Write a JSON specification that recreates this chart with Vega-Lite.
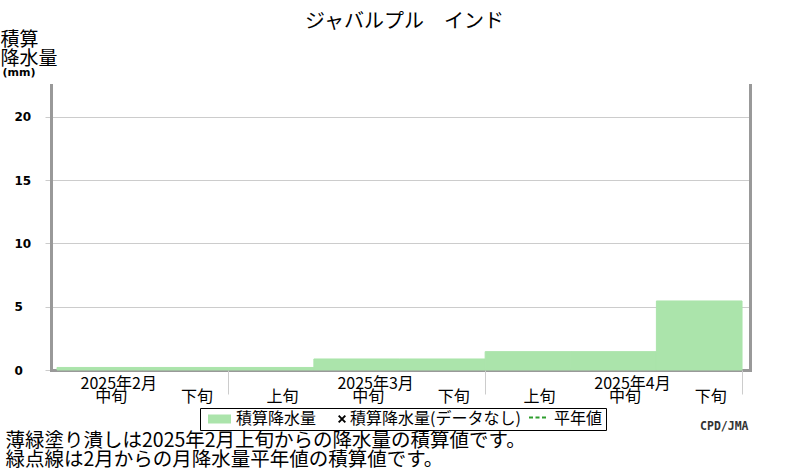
{
  "$schema": "https://vega.github.io/schema/vega-lite/v6.json",
  "width": 699,
  "height": 285,
  "autosize": {"type": "none"},
  "padding": {"left": 51, "top": 85, "right": 50, "bottom": 100},
  "background": "white",
  "title": {
    "text": "ジャバルプル　インド",
    "frame": "group",
    "anchor": "middle",
    "dx": 4,
    "offset": -2,
    "font": "Noto Sans CJK JP",
    "fontSize": 20,
    "fontWeight": "normal",
    "color": "black"
  },
  "config": {
    "view": {"stroke": null},
    "font": "Noto Sans CJK JP",
    "axis": {"labelColor": "black", "titleColor": "black"}
  },
  "layer": [
    {
      "data": {
        "values": [
          {"dekad": "2月中旬", "start": 1, "end": 2, "total": 0.2},
          {"dekad": "2月下旬", "start": 2, "end": 3, "total": 0.2},
          {"dekad": "3月上旬", "start": 3, "end": 4, "total": 0.2},
          {"dekad": "3月中旬", "start": 4, "end": 5, "total": 0.87},
          {"dekad": "3月下旬", "start": 5, "end": 6, "total": 0.87},
          {"dekad": "4月上旬", "start": 6, "end": 7, "total": 1.45},
          {"dekad": "4月中旬", "start": 7, "end": 8, "total": 1.45},
          {"dekad": "4月下旬", "start": 8, "end": 9, "total": 5.45}
        ]
      },
      "mark": {"type": "rect", "color": "#abe4ab", "stroke": "#abe4ab", "strokeWidth": 1},
      "encoding": {
        "x": {
          "field": "start",
          "type": "quantitative",
          "scale": {"domain": [0.93, 9.093], "nice": false, "zero": false},
          "axis": {
            "orient": "bottom",
            "values": [1.5, 2.5, 3.5, 4.5, 5.5, 6.5, 7.5, 8.5],
            "labelExpr": "['上旬', '中旬', '下旬'][floor(datum.value) % 3]",
            "ticks": false,
            "grid": false,
            "domain": true,
            "domainColor": "#999999",
            "domainWidth": 3,
            "domainCap": "square",
            "labelOffset": 11,
            "labelPadding": 18,
            "labelFont": "Noto Sans CJK JP",
            "labelFontSize": 16,
            "labelOverlap": false,
            "labelFlush": false,
            "labelBound": false,
            "title": ["薄緑塗り潰しは2025年2月上旬からの降水量の積算値です。", "緑点線は2月からの月降水量平年値の積算値です。"],
            "titleX": -46,
            "titleY": 61,
            "titleAlign": "left",
            "titleAnchor": "start",
            "titleBaseline": "top",
            "titleFont": "Noto Sans CJK JP",
            "titleFontSize": 19.5,
            "titleFontWeight": "normal",
            "titleLineHeight": 19
          }
        },
        "x2": {"field": "end"},
        "y": {
          "field": "total",
          "type": "quantitative",
          "scale": {"domain": [0, 22.5], "nice": false},
          "axis": {
            "orient": "left",
            "values": [0, 5, 10, 15, 20],
            "grid": true,
            "gridColor": "#cccccc",
            "gridWidth": 1,
            "tickColor": "#cccccc",
            "tickSize": 6,
            "domainColor": "#999999",
            "domainWidth": 3,
            "domainCap": "square",
            "labelAlign": "left",
            "labelBaseline": "middle",
            "labelPadding": 31,
            "labelFont": "DejaVu Sans",
            "labelFontWeight": "bold",
            "labelFontSize": 12,
            "labelFlush": false,
            "title": ["積算", "降水量"],
            "titleAngle": 0,
            "titleAlign": "left",
            "titleBaseline": "top",
            "titleX": -51,
            "titleY": -55,
            "titleFont": "Noto Sans CJK JP",
            "titleFontSize": 19,
            "titleFontWeight": "normal",
            "titleLineHeight": 19
          }
        },
        "y2": {"datum": 0}
      }
    },
    {
      "data": {
        "values": [
          {"series": "積算降水量"},
          {"series": "積算降水量(データなし)"},
          {"series": "平年値"}
        ]
      },
      "mark": {"type": "point", "filled": true, "clip": true, "opacity": 1},
      "encoding": {
        "x": {
          "datum": 0,
          "type": "quantitative",
          "axis": {
            "orient": "bottom",
            "values": [3, 6, 9],
            "labelExpr": "'2025年' + (floor(datum.value / 3) + 1) + '月'",
            "ticks": true,
            "tickSize": 24,
            "tickColor": "#cccccc",
            "tickWidth": 1,
            "domain": false,
            "grid": false,
            "labelOffset": -110,
            "labelPadding": -19,
            "labelFont": "Noto Sans CJK JP",
            "labelFontSize": 16,
            "labelOverlap": false,
            "labelFlush": false,
            "labelBound": false,
            "title": "CPD/JMA",
            "titleX": 697,
            "titleY": 61,
            "titleAlign": "right",
            "titleAnchor": "start",
            "titleBaseline": "bottom",
            "titleFont": "DejaVu Sans Mono",
            "titleFontWeight": "bold",
            "titleFontSize": 11.5,
            "titleColor": "#333333"
          }
        },
        "y": {
          "datum": 0,
          "type": "quantitative",
          "axis": {
            "orient": "right",
            "labels": false,
            "ticks": false,
            "grid": false,
            "domain": true,
            "domainColor": "#999999",
            "domainWidth": 3,
            "domainCap": "square",
            "title": "(mm)",
            "titleAngle": 0,
            "titleAlign": "left",
            "titleBaseline": "bottom",
            "titleX": -748,
            "titleY": -8,
            "titleFont": "DejaVu Sans",
            "titleFontWeight": "bold",
            "titleFontSize": 11
          }
        },
        "color": {
          "field": "series",
          "type": "nominal",
          "scale": {
            "domain": ["積算降水量", "積算降水量(データなし)", "平年値"],
            "range": ["#abe4ab", "#000000", "#2e9e2e"]
          },
          "legend": {
            "orient": "none",
            "legendX": 149,
            "legendY": 323,
            "direction": "horizontal",
            "title": null,
            "strokeColor": "black",
            "fillColor": "white",
            "padding": 3,
            "symbolSize": 256,
            "symbolStrokeWidth": 0,
            "symbolOpacity": 1,
            "labelOffset": 17,
            "columnPadding": -7,
            "labelFont": "Noto Sans CJK JP",
            "labelFontSize": 16,
            "labelColor": "black",
            "labelLimit": 400
          }
        },
        "shape": {
          "field": "series",
          "type": "nominal",
          "scale": {
            "domain": ["積算降水量", "積算降水量(データなし)", "平年値"],
            "range": [
              "M-1,0Z M-0.375,-0.56H2.5V0.56H-0.375Z",
              "M-1,0Z M1.625,-0.33L1.795,-0.5L2.625,0.33L2.455,0.5Z M2.455,-0.5L2.625,-0.33L1.795,0.5L1.625,0.33Z",
              "M-1,0Z M0,-0.3H0.5V-0.05H0Z M0.8125,-0.3H1.3125V-0.05H0.8125Z M1.625,-0.3H2.125V-0.05H1.625Z"
            ]
          }
        }
      }
    }
  ],
  "resolve": {"axis": {"x": "independent", "y": "independent"}}
}
